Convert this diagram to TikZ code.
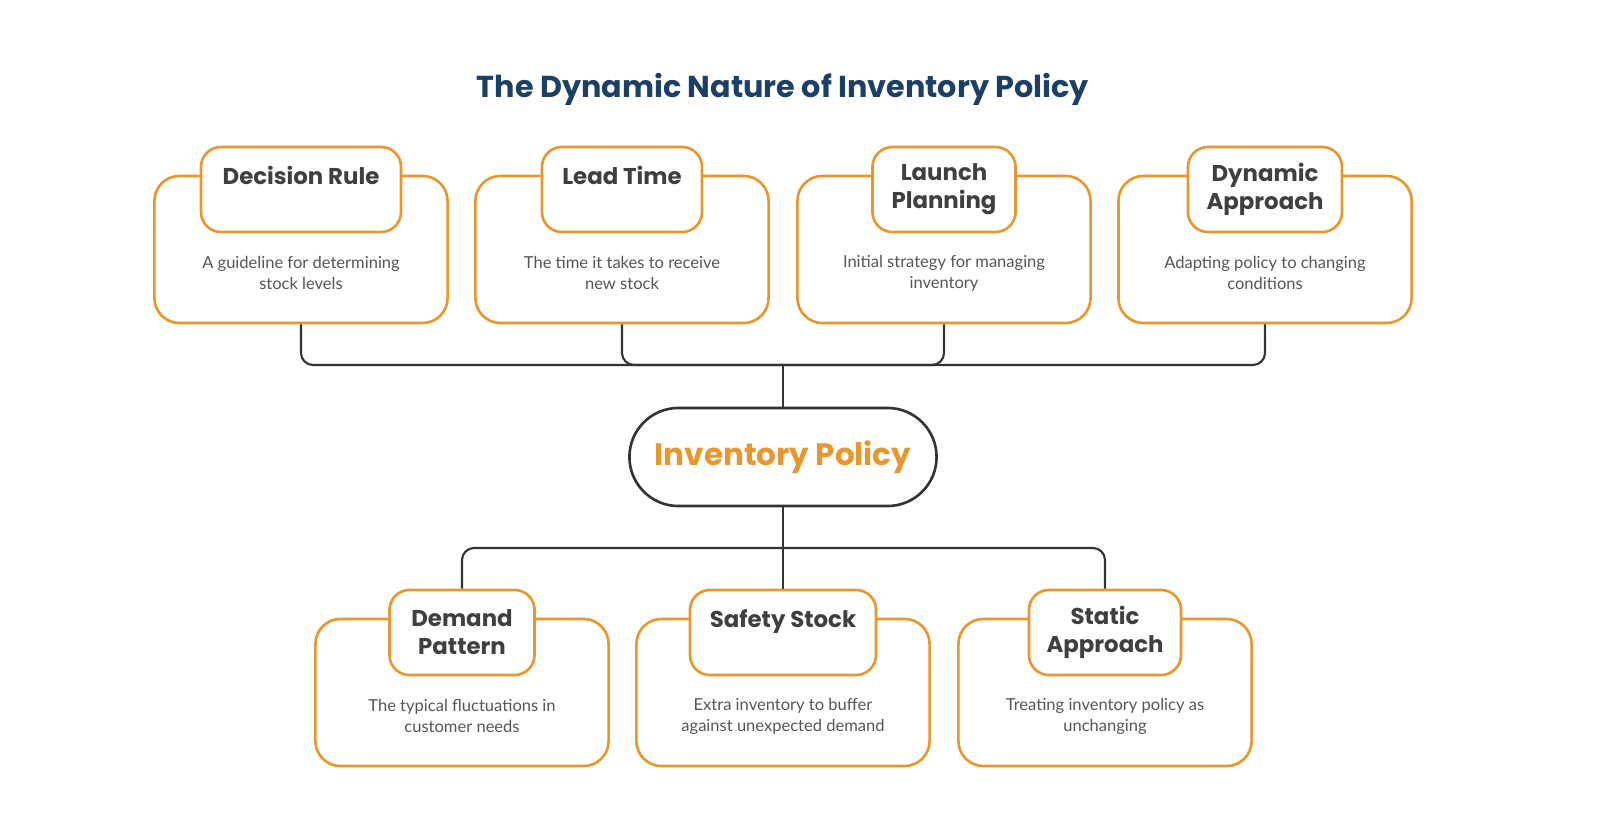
\documentclass[tikz,border=0pt]{standalone}
\usepackage{fontspec}
\setmainfont{Lato}
\newfontfamily\headfont{Poppins}
\usetikzlibrary{positioning}
\definecolor{boxorange}{HTML}{E8962E}
\definecolor{titleblue}{HTML}{1B3F66}
\definecolor{headgray}{HTML}{3F3F3F}
\definecolor{descgray}{HTML}{555555}
\definecolor{linegray}{HTML}{333333}

\tikzset{
  outerbox/.style={draw=boxorange, line width=0.75pt, rounded corners=0.25cm, fill=white,
    minimum width=2.93cm, minimum height=1.47cm},
  tabbox/.style={draw=boxorange, line width=0.75pt, rounded corners=0.2cm, fill=white,
    minimum height=0.85cm, align=center, inner sep=0pt,
    font=\headfont\bfseries\fontsize{6.5}{8}\selectfont, text=headgray},
  desc/.style={align=center, font=\fontsize{4.7}{6}\selectfont, text=descgray},
  conn/.style={draw=linegray, line width=0.6pt, rounded corners=0.12cm},
}

\begin{document}
\begin{tikzpicture}[x=0.01cm,y=-0.01cm]
\useasboundingbox (0,0) rectangle (1600,840);

% title
\node[font=\headfont\bfseries\fontsize{8.6}{10}\selectfont, text=titleblue] (title) at (783,89) {The Dynamic Nature of Inventory Policy};

% central policy node
\node[draw=linegray, line width=0.75pt, rounded corners=0.49cm, minimum width=3.07cm, minimum height=0.98cm,
  font=\headfont\bfseries\fontsize{8.8}{10}\selectfont, text=boxorange] (policy) at (783,457) {Inventory Policy};

% upper row
\foreach \n/\cx/\tw/\ttl/\dsc in {
  rule/301/2.00/{Decision Rule\\\mbox{}}/{A guideline for determining\\stock levels},
  lead/622/1.60/{Lead Time\\\mbox{}}/{The time it takes to receive\\new stock},
  launch/944/1.43/{Launch\\Planning}/{Initial strategy for managing\\inventory},
  dyn/1265/1.54/{Dynamic\\Approach}/{Adapting policy to changing\\conditions}}{
  \node[outerbox] (\n) at (\cx,249.5) {};
  \node[tabbox, minimum width=\tw cm] (\n-tab) at (\cx,189.5) {\ttl};
  \node[desc] (\n-desc) at (\cx,273) {\dsc};
}

% lower row
\foreach \n/\cx/\tw/\ttl/\dsc in {
  demand/462/1.45/{Demand\\Pattern}/{The typical fluctuations in\\customer needs},
  safety/783/1.86/{Safety Stock\\\mbox{}}/{Extra inventory to buffer\\against unexpected demand},
  static/1105/1.52/{Static\\Approach}/{Treating inventory policy as\\unchanging}}{
  \node[outerbox] (\n) at (\cx,692.5) {};
  \node[tabbox, minimum width=\tw cm] (\n-tab) at (\cx,632.5) {\ttl};
  \node[desc] (\n-desc) at (\cx,716) {\dsc};
}

% connectors
\coordinate (hubtop) at (783,365);
\coordinate (hubbot) at (783,548);
\foreach \n in {rule,lead,launch,dyn}
  \draw[conn] (\n.south) |- (hubtop);
\draw[conn] (hubtop) -- (policy.north);
\draw[conn] (policy.south) -- (hubbot);
\foreach \n in {demand,safety,static}
  \draw[conn] (\n-tab.north) |- (hubbot);

\end{tikzpicture}
\end{document}
